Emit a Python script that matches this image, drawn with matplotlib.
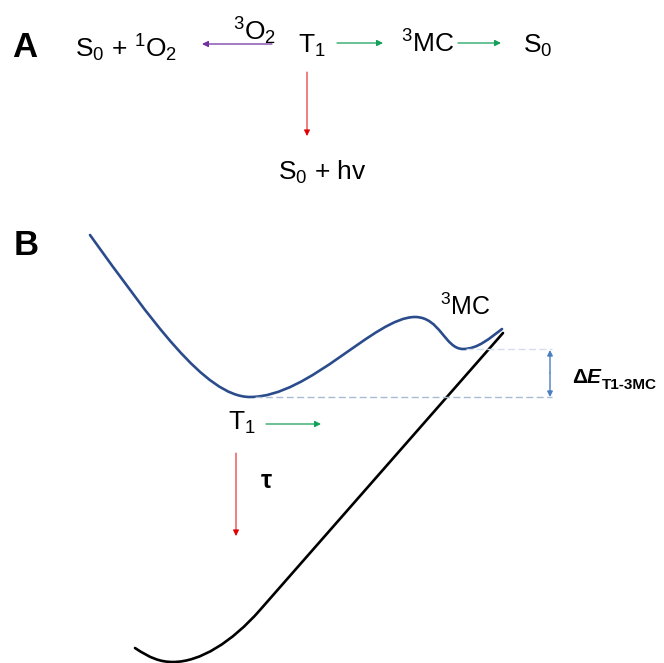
"""
Photophysics of the T1 state: reaction scheme (A) and potential energy
curves along the T1 -> 3MC coordinate (B).
"""

import matplotlib
matplotlib.use("Agg")
import matplotlib.pyplot as plt
from matplotlib.path import Path
from matplotlib.patches import PathPatch

plt.rcParams["font.family"] = ["Liberation Sans", "DejaVu Sans"]
plt.rcParams["mathtext.default"] = "regular"

# ── curve shapes (canvas pixels, y pointing down) ────────────────────────────

# triplet surface: start, well at T1, barrier, shallow 3MC well
t1_curve = [
    (90, 235), (150, 318), (205, 397), (250, 397),
    (310, 397), (375, 317), (415, 317),
    (440, 317), (445, 349), (463, 349),
    (478, 349), (490, 338), (502, 329),
]
t1_codes = [Path.MOVETO] + [Path.CURVE4] * 12

# ground-state surface rising to cross near 3MC
s0_curve = [
    (135, 648), (150, 658), (160, 662), (173, 662),
    (200, 662), (232, 642), (260, 610),
    (503, 333),
]
s0_codes = [Path.MOVETO] + [Path.CURVE4] * 6 + [Path.LINETO]

# ── helpers ──────────────────────────────────────────────────────────────────

def arrow(ax, x1, y1, x2, y2, color, lw=0.9, style="-|>", scale=9):
    ax.annotate(
        "", xy=(x2, y2), xytext=(x1, y1),
        arrowprops=dict(arrowstyle=style, color=color, lw=lw,
                        mutation_scale=scale, shrinkA=0, shrinkB=0),
    )


def label(ax, x, y, s, size=19, **kw):
    ax.text(x, y, s, ha="left", va="baseline", fontsize=size, **kw)


# ── canvas ───────────────────────────────────────────────────────────────────

fig = plt.figure(figsize=(6.64, 6.63), dpi=100)
ax = fig.add_axes([0, 0, 1, 1])
ax.set_xlim(0, 664)
ax.set_ylim(663, 0)
ax.axis("off")

PURPLE = "#7030A0"
GREEN = "#13A05A"
RED = "#E00000"
NAVY = "#2B4C8C"
BLUE = "#4A7EC0"

# ── panel A: reaction scheme ─────────────────────────────────────────────────

label(ax, 12, 57, "A", size=25, fontweight="bold")
label(ax, 75, 57, r"S$_0$ + $^1$O$_2$")
label(ax, 233, 40, r"${}^3$O$_2$")
label(ax, 298, 53, r"T$_1$")
label(ax, 401, 53, r"${}^3$MC")
label(ax, 523, 53, r"S$_0$")
label(ax, 278, 180, r"S$_0$ + hv")

arrow(ax, 272, 44, 202, 44, PURPLE)
arrow(ax, 337, 43, 383, 43, GREEN)
arrow(ax, 458, 43, 501, 43, GREEN)
arrow(ax, 307, 72, 307, 136, RED, lw=0.7)

# ── panel B: potential energy curves ─────────────────────────────────────────

label(ax, 14, 255, "B", size=25, fontweight="bold")

ax.add_patch(PathPatch(Path(t1_curve, t1_codes), facecolor="none",
                       edgecolor=NAVY, lw=1.9, capstyle="round"))
ax.add_patch(PathPatch(Path(s0_curve, s0_codes), facecolor="none",
                       edgecolor="black", lw=1.9, capstyle="round"))

# energy gap between the two minima
ax.plot([255, 552], [397, 397], color="#A9BAD3", lw=1.0, dashes=(5, 2.5))
ax.plot([466, 552], [349, 349], color="#D3DDEB", lw=1.0, dashes=(5, 2.5))
arrow(ax, 550, 373, 550, 350, BLUE, lw=1.0, scale=8)
arrow(ax, 550, 373, 550, 397, BLUE, lw=1.0, scale=8)

label(ax, 440, 315, r"${}^3$MC", size=18)
label(ax, 228, 430, r"T$_1$", size=19)
arrow(ax, 266, 424, 321, 424, GREEN)
arrow(ax, 236, 453, 236, 536, RED, lw=0.7)
label(ax, 261, 488, "τ", size=18, fontweight="bold")

label(ax, 572, 383, "Δ", size=15, fontweight="bold")
label(ax, 587, 383, "E", size=15, fontweight="bold", fontstyle="italic")
label(ax, 602, 389, "T1-3MC", size=11, fontweight="bold")

fig.savefig("out.png", dpi=100, facecolor="white")
